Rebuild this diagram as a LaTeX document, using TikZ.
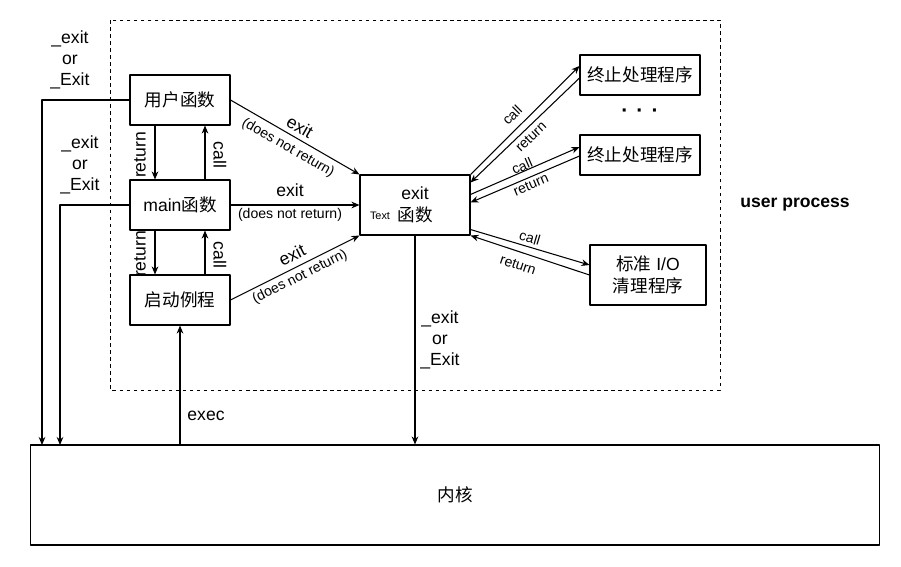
\documentclass[tikz,border=0pt]{standalone}
\usepackage{fontspec}
\setmainfont{Liberation Sans}
\newfontfamily\cjk{Noto Sans CJK SC}
\usetikzlibrary{arrows.meta,calc}
\tikzset{
  box/.style={draw, minimum width=2cm, minimum height=1cm, inner sep=1pt, align=center, font=\fontsize{10}{12.5}\selectfont},
  arr/.style={-{Stealth[length=4.6pt,width=3.8pt]}},
  lbl/.style={inner sep=0pt, align=center, font=\fontsize{10}{12}\selectfont},
  note/.style={inner sep=0pt, font=\fontsize{8}{9}\selectfont},
}
\begin{document}
\begin{tikzpicture}[x=0.02cm, y=-0.02cm, line width=0.6pt, line join=round]
\useasboundingbox (0,0) rectangle (901,566);
% user process area
\draw[dash pattern=on 2pt off 2pt, line width=0.5pt] (110,20) rectangle (720,390);
\node[lbl, font=\bfseries\fontsize{10}{12}\selectfont] (up) at (795,205) {user process};

% boxes
\node[box] (user) at (180,100) {{\cjk 用户函数}};
\node[box] (main) at (180,205) {main{\cjk 函数}};
\node[box] (start) at (180,300) {{\cjk 启动例程}};
\node[box, minimum width=2.2cm, minimum height=1.2cm] (exitf) at (415,205) {exit\\{\cjk 函数}};
\node[inner sep=0pt, font=\fontsize{6.2}{7}\selectfont] (txt) at (380,216) {Text};
\node[box, minimum width=2.4cm, minimum height=0.8cm] (term1) at (640,75) {{\cjk 终止处理程序}};
\node[inner sep=0pt, font=\bfseries\fontsize{12}{12}\selectfont] (dots) at (640,113) {·\hspace{4.6pt}·\hspace{4.6pt}·};
\node[box, minimum width=2.4cm, minimum height=0.8cm] (term2) at (640,155) {{\cjk 终止处理程序}};
\node[box, minimum width=2.32cm, minimum height=1.2cm] (stdio) at (648,275) {{\cjk 标准} I/O\\{\cjk 清理程序}};
\node[box, minimum width=17cm, minimum height=2cm] (kernel) at (455,495) {{\cjk 内核}};

% exit or _Exit to kernel
\coordinate (k1) at (42,445);
\coordinate (k2) at (60,445);
\draw[arr] (user.west) -| (k1);
\draw[arr] (main.west) -| (k2);
\draw[arr] (exitf.south) -- (exitf.south |- kernel.north);
\draw[arr] (kernel.north -| start.south) -- (start.south);
\node[lbl] (ex1) at (70,60) {\_exit\\or\\\_Exit};
\node[lbl] (ex2) at (80,165) {\_exit\\or\\\_Exit};
\node[lbl] (ex3) at (440,340) {\_exit\\or\\\_Exit};
\node[lbl] (exec) at (206,416) {exec};

% call / return on the left
\draw[arr] ([xshift=-0.5cm]user.south) -- ([xshift=-0.5cm]main.north);
\draw[arr] ([xshift=0.5cm]main.north) -- ([xshift=0.5cm]user.south);
\draw[arr] ([xshift=-0.5cm]main.south) -- ([xshift=-0.5cm]start.north);
\draw[arr] ([xshift=0.5cm]start.north) -- ([xshift=0.5cm]main.south);
\node[lbl, rotate=90] (r1) at (140,155) {return};
\node[lbl, rotate=-90] (c1) at (220,155) {call};
\node[lbl, rotate=90] (r2) at (140,254) {return};
\node[lbl, rotate=-90] (c2) at (220,255) {call};

% exit (does not return)
\draw[arr] (user.east) -- (exitf.north west);
\draw[arr] (main.east) -- (exitf.west);
\draw[arr] (start.east) -- (exitf.south west);
\node[lbl, rotate=-30] (e1) at (300,127) {exit};
\node[note, rotate=-30] (d1) at (288,148) {(does not return)};
\node[lbl] (e2) at (290,190) {exit};
\node[note] (d2) at (290,215) {(does not return)};
\node[lbl, rotate=26.6] (e3) at (292,255) {exit};
\node[note, rotate=26.6] (d3) at (300,277) {(does not return)};

% exit handlers
\draw[arr] (exitf.north east) -- ($(term1.west)+(0,-9)$);
\draw[arr] ($(term1.west)+(0,3)$) -- ($(exitf.north east)+(0,8)$);
\draw[arr] ($(exitf.north east)+(0,20)$) -- ($(term2.west)+(0,-8)$);
\draw[arr] ($(term2.west)+(0,1)$) -- ($(exitf.north east)+(0,28)$);
\draw[arr] ($(exitf.south east)+(0,-6)$) -- ($(stdio.west)+(0,-10)$);
\draw[arr] (stdio.west) -- (exitf.south east);
\node[note, rotate=44.7] (c3) at (512,115) {call};
\node[note, rotate=43.7] (r3) at (531,137) {return};
\node[note, rotate=23.6] (c4) at (522,166) {call};
\node[note, rotate=23.1] (r4) at (531,185) {return};
\node[note, rotate=-16.7] (c5) at (530,238) {call};
\node[note, rotate=-18] (r5) at (518,265) {return};
\end{tikzpicture}
\end{document}
